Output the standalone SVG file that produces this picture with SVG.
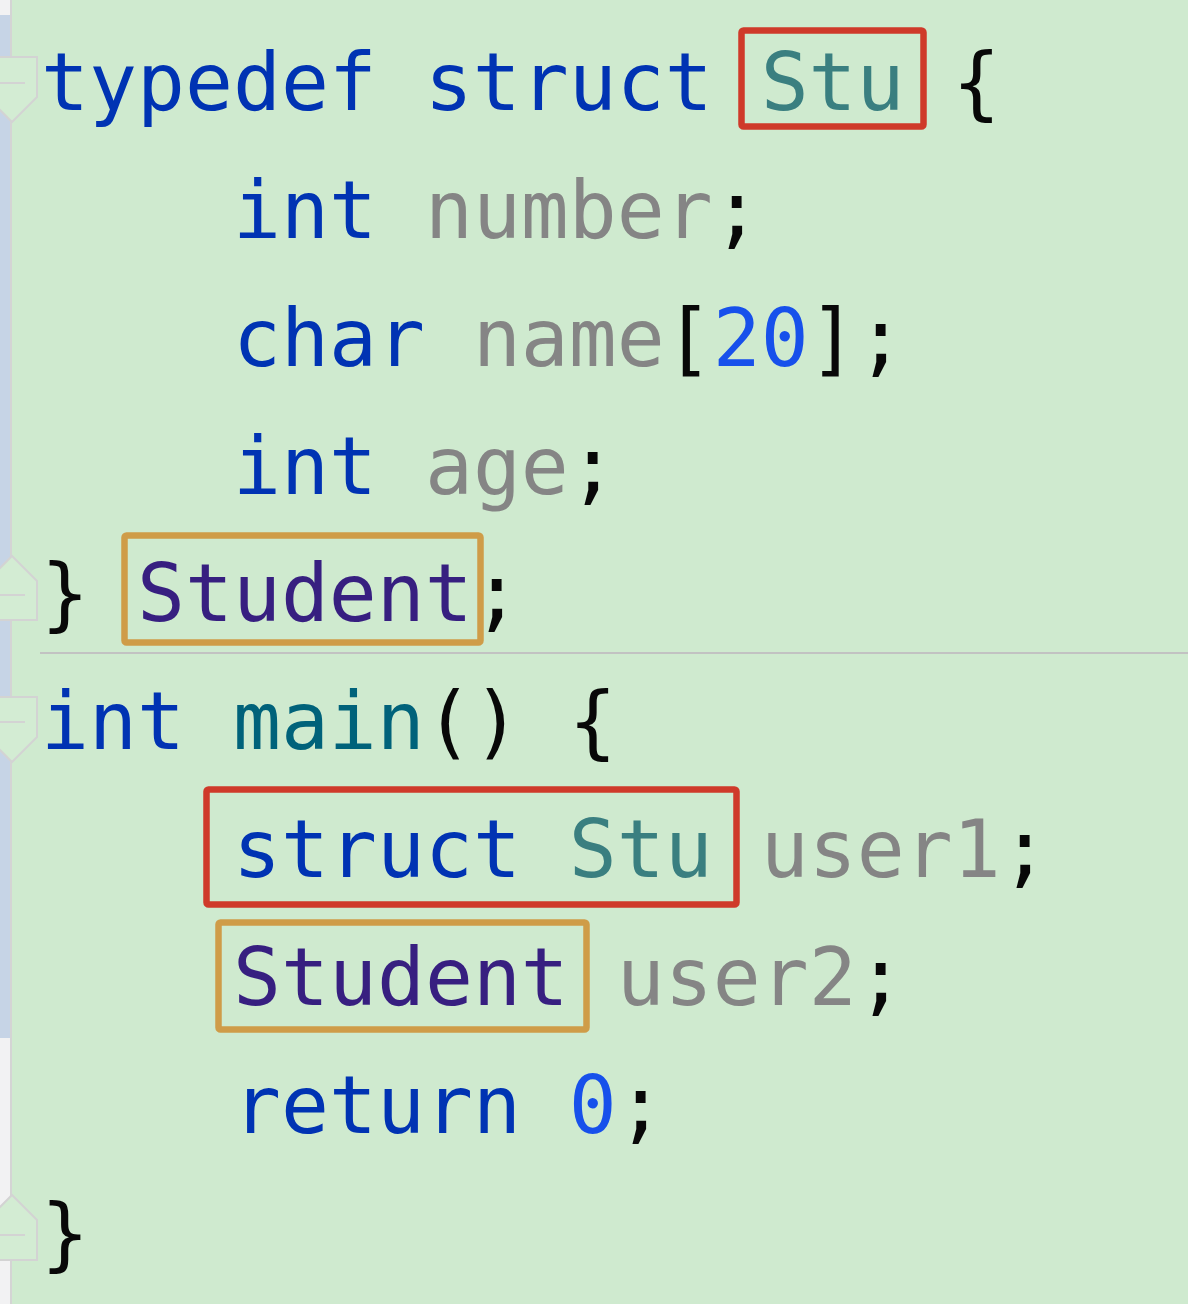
<svg xmlns="http://www.w3.org/2000/svg" width="1188" height="1304" viewBox="0 0 1188 1304">
<style>
.code{font-family:"DejaVu Sans Mono","Liberation Mono",monospace;font-size:79.7px;fill:#080808}
.kw{fill:#0033b3}
.ty{fill:#3a7f80}
.td{fill:#371f80}
.fld{fill:#858585}
.num{fill:#1750eb}
.fn{fill:#00627a}
.red{fill:none;stroke:#cf3a2a;stroke-width:6.5}
.org{fill:none;stroke:#cf9c48;stroke-width:6.5}
.fold{fill:#d3ecd3;stroke:#d3d3d3;stroke-width:2}
.foldline{stroke:#d3d3d3;stroke-width:2}
</style>
<rect x="0" y="0" width="1188" height="1304" fill="#cfeacf"/>
<g id="gutter">
<rect x="0" y="0" width="11" height="1304" fill="#f2f2f3"/>
<rect x="0" y="15" width="11" height="1023" fill="#c6d4e6"/>
<line x1="11" y1="0" x2="11" y2="1304" stroke="#d4d4d4" stroke-width="2"/>
<g id="fold1"><path class="fold" d="M-13,57 H37 V97 L12,122 L-13,97 Z"/><line class="foldline" x1="0" y1="83" x2="25" y2="83"/></g>
<g id="fold2"><path class="fold" d="M-13,620 H37 V581 L12,556 L-13,581 Z"/><line class="foldline" x1="0" y1="595" x2="25" y2="595"/></g>
<g id="fold3"><path class="fold" d="M-13,697 H37 V737 L12,762 L-13,737 Z"/><line class="foldline" x1="0" y1="722" x2="25" y2="722"/></g>
<g id="fold4"><path class="fold" d="M-13,1260 H37 V1220 L12,1195 L-13,1220 Z"/><line class="foldline" x1="0" y1="1235" x2="25" y2="1235"/></g>
</g>
<line id="divider" x1="40" y1="653" x2="1188" y2="653" stroke="#c2c2c2" stroke-width="2"/>
<g id="code" class="code" xml:space="preserve">
<text x="41" y="110"><tspan class="kw">typedef struct </tspan><tspan class="ty">Stu</tspan> {</text>
<text x="233" y="238"><tspan class="kw">int</tspan><tspan class="fld"> number</tspan>;</text>
<text x="233" y="366"><tspan class="kw">char</tspan><tspan class="fld"> name</tspan>[<tspan class="num">20</tspan>];</text>
<text x="233" y="494"><tspan class="kw">int</tspan><tspan class="fld"> age</tspan>;</text>
<text x="41" y="621">} <tspan class="td">Student</tspan>;</text>
<text x="41" y="749"><tspan class="kw">int</tspan><tspan class="fn"> main</tspan>() {</text>
<text x="233" y="877"><tspan class="kw">struct</tspan><tspan class="ty"> Stu</tspan><tspan class="fld"> user1</tspan>;</text>
<text x="233" y="1005"><tspan class="td">Student</tspan><tspan class="fld"> user2</tspan>;</text>
<text x="233" y="1133"><tspan class="kw">return</tspan><tspan class="num"> 0</tspan>;</text>
<text x="41" y="1261">}</text>
</g>
<g id="box-stu-1"><rect class="red" x="741.5" y="30.5" width="182" height="96" rx="2"/></g>
<g id="box-student-1"><rect class="org" x="124.5" y="535.5" width="356" height="107" rx="2"/></g>
<g id="box-stu-2"><rect class="red" x="206.5" y="789.5" width="530" height="115" rx="2"/></g>
<g id="box-student-2"><rect class="org" x="218.5" y="922.5" width="368" height="107" rx="2"/></g>
</svg>
